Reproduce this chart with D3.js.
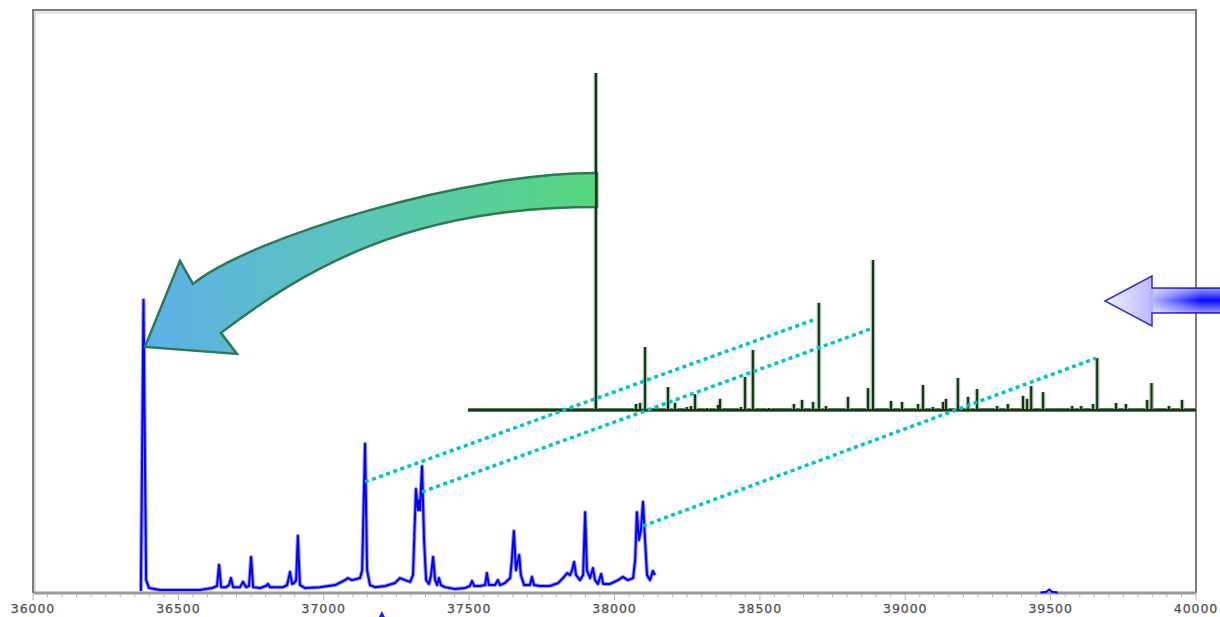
<!DOCTYPE html>
<html><head><meta charset="utf-8">
<script src="https://cdn.jsdelivr.net/npm/d3@7"></script>
<style>body{margin:0;background:#fff}svg{display:block}</style>
</head><body><svg id="c" width="1220" height="617"></svg>
<script>
// ---- data ----
const xTickLabels = [36000,36500,37000,37500,38000,38500,39000,39500,40000];
const minorStep = 50;

// blue (measured) trace: mass, relative intensity
const blueMass = [36371,36380,36389,36399,36437,36574,36616,36633,36640,36647,36664,36674,36681,36688,36712,36722,36733,36743,36750,36757,36781,36801,36808,36815,36860,36874,36884,36891,36898,36905,36911,36918,36936,36987,37039,37073,37083,37097,37125,37132,37142,37149,37159,37176,37211,37245,37262,37280,37297,37307,37317,37324,37328,37331,37338,37345,37352,37362,37369,37376,37383,37390,37396,37403,37417,37451,37486,37503,37510,37517,37537,37555,37561,37568,37589,37599,37606,37623,37641,37647,37654,37661,37672,37678,37689,37709,37716,37723,37744,37778,37806,37823,37837,37847,37854,37861,37868,37881,37892,37899,37905,37916,37926,37933,37943,37954,37961,37985,38012,38029,38046,38064,38071,38077,38084,38091,38098,38105,38112,38122,38132,38139];
const blueInt  = [0.7,100,4.4,1.7,1.0,1.0,1.7,2.4,9.6,2.0,2.0,2.7,5.1,2.0,2.0,3.8,2.0,2.4,12.3,2.0,1.7,2.4,3.1,2.0,2.0,2.7,7.2,3.1,3.4,4.4,19.5,2.7,1.7,2.0,2.7,4.4,5.1,4.4,5.1,7.8,50.9,7.8,2.7,2.0,2.4,3.4,5.1,4.4,3.8,6.1,35.5,28.3,31.7,28.3,43.3,18.1,4.4,3.1,6.1,12.3,4.4,2.7,5.1,2.7,2.0,1.4,1.7,2.4,4.1,2.4,2.4,2.7,6.8,2.7,2.7,4.4,2.7,3.4,5.1,11.3,21.2,7.8,13.0,6.1,2.7,2.7,5.5,2.7,2.4,2.4,3.4,5.1,6.8,6.1,7.8,10.6,6.1,4.4,6.1,27.6,7.8,5.1,8.5,4.4,3.1,6.5,3.1,3.1,4.4,5.5,4.4,5.1,11.3,27.6,18.1,21.5,31.1,18.1,6.1,4.4,7.5,6.1];
const blueSmallMass = [39465,39485,39495,39505,39525];
const blueSmallInt  = [0.2,0.4,1.2,0.4,0.2];

// green (theoretical) stick spectrum
const greenBase = [37496, 40000];
const greenMass = [37936,38074,38088,38105,38184,38208,38249,38263,38277,38318,38356,38363,38435,38449,38476,38531,38617,38645,38683,38703,38727,38803,38872,38889,38951,38989,39044,39061,39095,39130,39140,39181,39216,39247,39316,39353,39405,39419,39433,39474,39574,39605,39646,39660,39725,39759,39832,39847,39907,39952];
const greenInt  = [100,1.8,2.1,18.7,6.8,2.1,0.9,1.2,4.7,0.6,1.5,3.3,0.9,9.8,17.8,0.6,1.8,3.0,2.4,31.8,1.2,3.9,6.5,44.5,2.7,2.4,1.8,7.4,0.9,2.4,3.3,9.5,3.9,6.2,1.2,1.8,4.2,3.3,7.1,5.3,1.2,1.2,1.8,15.4,2.1,1.8,3.0,8.0,1.2,3.0];

// matched peaks (blue -> green)
const linkBlueMass  = [37142, 37338, 38098];
const linkBlueInt   = [37.9, 34.5, 22.9];
const linkGreenMass = [38693, 38889, 39656];
const linkGreenInt  = [27.0, 24.3, 15.4];

// ---- scales ----
const svg = d3.select('#c');
const x = d3.scaleLinear().domain([36000, 40000]).range([33, 1196]);
const yB = d3.scaleLinear().domain([0, 100]).range([593, 300]);
const yG = d3.scaleLinear().domain([0, 100]).range([410, 73]);

const defs = svg.append('defs');
const g1 = defs.append('linearGradient').attr('id','gArrow').attr('gradientUnits','userSpaceOnUse')
  .attr('x1',145).attr('y1',0).attr('x2',597).attr('y2',0);
g1.append('stop').attr('offset','0%').attr('stop-color','#5cb0e8');
g1.append('stop').attr('offset','45%').attr('stop-color','#5cc4bc');
g1.append('stop').attr('offset','100%').attr('stop-color','#55d77c');
const g2 = defs.append('linearGradient').attr('id','bArrow').attr('gradientUnits','userSpaceOnUse')
  .attr('x1',1105).attr('y1',0).attr('x2',1200).attr('y2',0);
g2.append('stop').attr('offset','0%').attr('stop-color','#f0f0ff');
g2.append('stop').attr('offset','45%').attr('stop-color','#c0c0ff');
g2.append('stop').attr('offset','100%').attr('stop-color','#0a0aff');
const g3 = defs.append('linearGradient').attr('id','bShaft').attr('x1',0).attr('y1',0).attr('x2',0).attr('y2',1);
g3.append('stop').attr('offset','0%').attr('stop-color','#ffffff').attr('stop-opacity',0.55);
g3.append('stop').attr('offset','50%').attr('stop-color','#ffffff').attr('stop-opacity',0);
g3.append('stop').attr('offset','100%').attr('stop-color','#ffffff').attr('stop-opacity',0.55);

// frame
svg.append('rect').attr('x',33).attr('y',10).attr('width',1163).attr('height',583).attr('fill','#fff');
svg.append('path').attr('d','M35,593 V12.5 H1196').attr('fill','none').attr('stroke','#dcdcdc').attr('stroke-width',2);
svg.append('path').attr('d','M33,593 V10 H1196 V593').attr('fill','none').attr('stroke','#7c7c7c').attr('stroke-width',2);

// axis
const axisG = svg.append('g').attr('transform','translate(0,593)');
axisG.append('line').attr('x1',33).attr('x2',1196).attr('stroke','#9a9a9a').attr('stroke-width',3);
const minor = d3.range(xTickLabels[0], xTickLabels[xTickLabels.length-1]+1, minorStep);
axisG.selectAll('line.mt').data(minor).join('line').attr('class','mt')
  .attr('x1',d=>x(d)).attr('x2',d=>x(d)).attr('y1',1).attr('y2',d=> d%500===0?7:4)
  .attr('stroke','#b0b0b0').attr('stroke-width',1);
axisG.selectAll('text').data(xTickLabels).join('text')
  .attr('x',d=>x(d)).attr('y',20).attr('text-anchor','middle')
  .attr('font-family','DejaVu Sans, sans-serif').attr('font-size',12.5).attr('letter-spacing',0.9)
  .attr('fill','#505050').attr('stroke','#505050').attr('stroke-width',0.25)
  .text(d=>d);

// green spectrum
const gG = svg.append('g');
const greenSticks = greenMass.map((m,i)=>({m, v:greenInt[i]}));
gG.append('line').attr('x1',x(greenBase[0])).attr('x2',x(greenBase[1])).attr('y1',yG(0)).attr('y2',yG(0))
  .attr('stroke','#5e7d5e').attr('stroke-width',4);
gG.selectAll('line.h').data(greenSticks).join('line').attr('class','h')
  .attr('x1',d=>x(d.m)).attr('x2',d=>x(d.m)).attr('y1',yG(0)).attr('y2',d=>yG(d.v))
  .attr('stroke','#a5c0a5').attr('stroke-width',4.5);
gG.append('line').attr('x1',x(greenBase[0])).attr('x2',x(greenBase[1])).attr('y1',yG(0)).attr('y2',yG(0))
  .attr('stroke','#163816').attr('stroke-width',2);
gG.selectAll('line.s').data(greenSticks).join('line').attr('class','s')
  .attr('x1',d=>x(d.m)).attr('x2',d=>x(d.m)).attr('y1',yG(0)).attr('y2',d=>yG(d.v))
  .attr('stroke','#143414').attr('stroke-width',2);

// blue trace
const blueData = blueMass.map((m,i)=>[m, blueInt[i]]);
const line = d3.line().x(d=>x(d[0])).y(d=>yB(d[1]));
svg.append('path').datum(blueData).attr('d',line).attr('fill','none').attr('stroke','#9a9aff').attr('stroke-width',4).attr('stroke-linejoin','round');
svg.append('path').datum(blueData).attr('d',line).attr('fill','none').attr('stroke','#0000ff').attr('stroke-width',2).attr('stroke-linejoin','round');
svg.append('path').datum(blueSmallMass.map((m,i)=>[m, blueSmallInt[i]])).attr('d',line).attr('fill','none').attr('stroke','#0000ff').attr('stroke-width',2);

// links
const links = linkBlueMass.map((m,i)=>({x1:x(m), y1:yB(linkBlueInt[i]), x2:x(linkGreenMass[i]), y2:yG(linkGreenInt[i])}));
svg.selectAll('line.lk').data(links).join('line').attr('class','lk')
  .attr('x1',d=>d.x1).attr('y1',d=>d.y1).attr('x2',d=>d.x2).attr('y2',d=>d.y2)
  .attr('stroke','#00c4c8').attr('stroke-width',3.5).attr('stroke-dasharray','4,3.5');

// curved arrow: from main green peak to main blue peak
const tx = x(greenMass[0]) + 1, tyTop = 173, tyBot = 207;
const px = x(36385), py = yB(84);
const arrowD = `M${tx},${tyTop} C${tx-127},${tyTop-1} ${tx-344},${tyTop+63} ${px+48},${py-63}
 L${px+35},${py-86} L${px},${py} L${px+92},${py+7} L${px+76},${py-14}
 C${px+160},${py-78} ${px+264},${py-140} ${tx},${tyBot} Z`;
svg.append('path').attr('d',arrowD).attr('fill','url(#gArrow)').attr('stroke','#2c7a52').attr('stroke-width',2.5).attr('stroke-linejoin','miter');
svg.append('line').attr('x1',tx).attr('x2',tx).attr('y1',tyTop).attr('y2',tyBot).attr('stroke','#2a5f88').attr('stroke-width',2.5);
// re-draw the main green stick over the arrow tail
svg.append('line').attr('x1',x(greenMass[0])).attr('x2',x(greenMass[0])).attr('y1',yG(0)).attr('y2',yG(greenInt[0]))
  .attr('stroke','#143414').attr('stroke-width',2);

// right blue arrow
const bx = 1105, by = 301;
const bD = `M${bx},${by} L${bx+47},${by-25} L${bx+47},${by-13} L1232,${by-13} L1232,${by+12} L${bx+47},${by+12} L${bx+47},${by+25} Z`;
svg.append('path').attr('d',bD).attr('fill','url(#bArrow)').attr('stroke','#3232c8').attr('stroke-width',1.5);
svg.append('rect').attr('x',bx+48).attr('y',by-12).attr('width',80).attr('height',23).attr('fill','url(#bShaft)');

// small blue marker under axis
svg.append('path').attr('d',`M${x(37200)-3},617 L${x(37200)},611 L${x(37200)+3},617 Z`).attr('fill','#2020ff');
</script></body></html>
